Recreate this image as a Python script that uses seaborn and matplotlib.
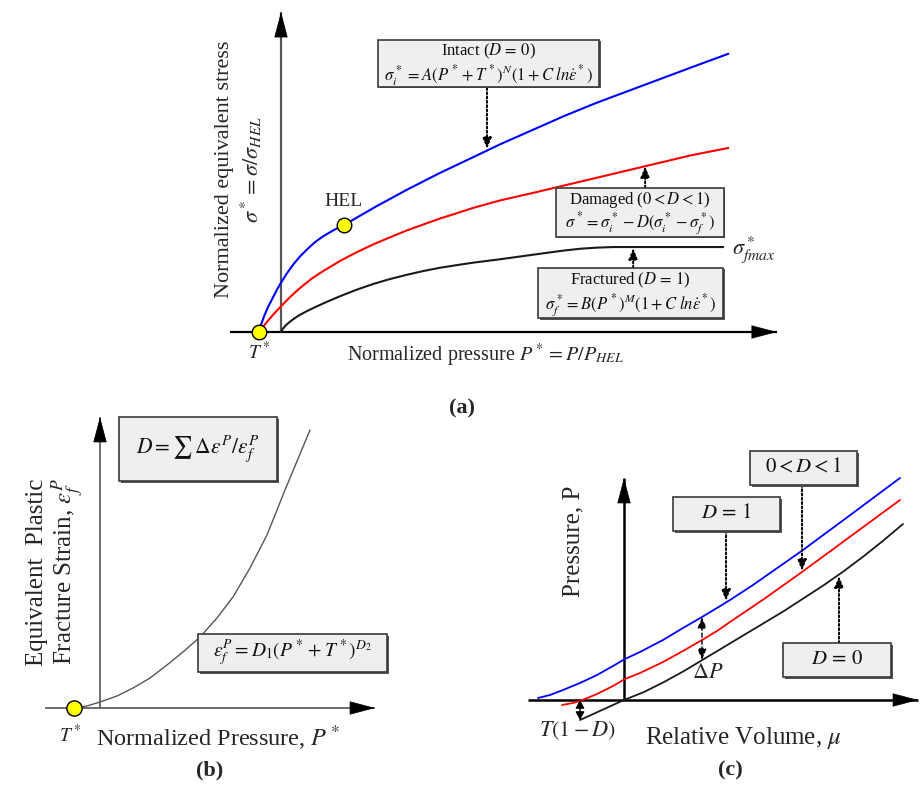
import matplotlib
matplotlib.use("Agg")
import matplotlib.pyplot as plt
from matplotlib.patches import Rectangle
from matplotlib.transforms import offset_copy
import seaborn as sns

W, H = 924, 785

# (a) JH-2 strength curves, normalized pressure / stress (HEL at 1, 1)
intact_p = [-0.35, -0.31, -0.26, -0.20, -0.13, -0.06, 0.0, 0.09, 0.20, 0.30, 0.41, 0.54, 0.67, 0.83,
            1.0, 1.5, 2.0, 2.5, 3.0, 3.5, 4.0, 4.5, 5.0, 5.5, 6.0, 6.5, 7.1]
intact_s = [0.0, 0.08, 0.16, 0.24, 0.32, 0.40, 0.46, 0.545, 0.635, 0.705, 0.77, 0.84, 0.895, 0.95,
            1.0, 1.17, 1.33, 1.48, 1.62, 1.76, 1.89, 2.02, 2.14, 2.25, 2.36, 2.47, 2.60]
damaged_p = [-0.35, -0.25, -0.12, 0.0, 0.14, 0.30, 0.49, 0.67, 0.94, 1.20, 1.47, 1.73, 2.0, 2.26,
             2.52, 2.79, 3.05, 3.48, 4.0, 4.5, 5.0, 5.5, 6.0, 6.5, 7.1]
damaged_s = [0.0, 0.075, 0.165, 0.24, 0.325, 0.41, 0.50, 0.57, 0.665, 0.745, 0.82, 0.885, 0.95,
             1.005, 1.06, 1.11, 1.16, 1.23, 1.30, 1.37, 1.44, 1.51, 1.58, 1.65, 1.72]
fractured_p = [0.0, 0.03, 0.08, 0.16, 0.27, 0.41, 0.57, 0.72, 0.94, 1.20, 1.47, 1.73, 2.0, 2.26,
               2.52, 2.79, 3.05, 3.48, 3.85, 4.22, 4.5, 4.75, 5.0, 5.27, 7.02]
fractured_s = [0.0, 0.03, 0.065, 0.105, 0.15, 0.195, 0.24, 0.28, 0.335, 0.395, 0.45, 0.495, 0.535,
               0.57, 0.60, 0.625, 0.648, 0.68, 0.71, 0.74, 0.762, 0.778, 0.788, 0.794, 0.794]
hel_point = (1.0, 1.0)
tstar_a = -0.35

# (b) fracture strain vs normalized pressure
strain_p = [-0.26, -0.13, 0.0, 0.17, 0.33, 0.50, 0.67, 0.83, 1.00, 1.17, 1.33, 1.50, 1.67, 1.85, 2.10]
strain_e = [0.0, 0.02, 0.06, 0.12, 0.20, 0.30, 0.43, 0.56, 0.71, 0.90, 1.11, 1.40, 1.73, 2.18, 2.78]
tstar_b = -0.26

# (c) pressure vs relative volume
eos_intact_mu = [-0.86, -0.74, -0.61, -0.44, -0.27, -0.11, 0.01, 0.16, 0.39, 0.59, 0.78, 0.93,
                 1.06, 1.29, 1.79, 2.29, 2.76]
eos_intact_p = [0.02, 0.05, 0.10, 0.17, 0.25, 0.34, 0.41, 0.48, 0.60, 0.72, 0.83, 0.92,
                1.00, 1.15, 1.50, 1.87, 2.22]
eos_damaged_mu = [-0.62, -0.51, -0.44, -0.27, -0.11, 0.01, 0.16, 0.39, 0.59, 0.78, 0.93, 1.06,
                  1.40, 1.78, 2.27, 2.76]
eos_damaged_p = [-0.05, -0.03, -0.01, 0.06, 0.14, 0.21, 0.27, 0.38, 0.49, 0.60, 0.69, 0.78,
                 1.01, 1.28, 1.64, 2.00]
eos_fractured_mu = [-0.44, 0.0, 0.2, 0.4, 0.6, 0.8, 1.0, 1.2, 1.4, 1.6, 1.8, 2.0, 2.2, 2.4, 2.6, 2.79]
eos_fractured_p = [-0.20, 0.0, 0.08, 0.18, 0.29, 0.41, 0.53, 0.65, 0.77, 0.89, 1.02, 1.15, 1.29,
                   1.44, 1.60, 1.76]

BLUE, RED, BLACK = "#0000ff", "#ff0000", "#1a1a1a"
BOX_FC, BOX_EC = "#efefef", "#3a3a3a"

sns.set_theme(style="white")
plt.rcParams["font.family"] = ["Liberation Serif", "DejaVu Serif"]
plt.rcParams["mathtext.fontset"] = "stix"

fig = plt.figure(figsize=(W / 100, H / 100), dpi=100)


def panel_axes(box, origin, scale):
    # box / origin in pixels (y down), scale = pixels per data unit
    x0, y0, x1, y1 = box
    ox, oy = origin
    sx, sy = scale
    ax = fig.add_axes([x0 / W, 1 - y1 / H, (x1 - x0) / W, (y1 - y0) / H])
    ax.set_xlim((x0 - ox) / sx, (x1 - ox) / sx)
    ax.set_ylim((oy - y1) / sy, (oy - y0) / sy)
    ax.set_axis_off()
    ax.patch.set_visible(False)
    return ax


def axis_line(ax, xs, ys, color, lw, direction):
    ax.plot(xs, ys, color=color, lw=lw, solid_capstyle="butt")
    off = {"right": (-17, 0), "up": (0, -17)}[direction]
    ax.annotate("", xy=(xs[1], ys[1]), xytext=off, textcoords="offset points",
                arrowprops=dict(arrowstyle="-|>,head_length=1.7,head_width=0.45",
                                mutation_scale=10, color="black", lw=0.5,
                                shrinkA=0, shrinkB=0))


def dotted_arrow(ax, start, tip, style="-|>", ls=(0, (1, 1.2)), lw=1.4, head=0.55):
    ax.annotate("", xy=tip, xytext=start,
                arrowprops=dict(arrowstyle=f"{style},head_length={head},head_width=0.22",
                                mutation_scale=12, color="black", lw=lw,
                                linestyle=ls, shrinkA=0, shrinkB=0))


def text_box(ax, x0, x1, y0, y1, lines, size):
    shadow = offset_copy(ax.transData, fig=fig, x=1.5, y=-1.5, units="dots")
    ax.add_patch(Rectangle((x0, y0), x1 - x0, y1 - y0, transform=shadow,
                           fc="#555555", ec="none", zorder=4))
    ax.add_patch(Rectangle((x0, y0), x1 - x0, y1 - y0, fc=BOX_FC, ec=BOX_EC,
                           lw=1.2, zorder=5))
    n = len(lines)
    for i, s in enumerate(lines):
        yy = y1 - (y1 - y0) * (i + 0.5) / n
        ax.text((x0 + x1) / 2, yy, s, ha="center", va="center", fontsize=size,
                color="#111111", zorder=6)


# ---------------- (a) ----------------
ax = panel_axes((185, 0, 800, 425), (281, 332), (63, 107))
axis_line(ax, [-0.81, 7.87], [0, 0], "black", 1.6, "right")
axis_line(ax, [0, 0], [0, 2.99], "#555555", 1.6, "up")
sns.lineplot(x=intact_p, y=intact_s, ax=ax, color=BLUE, lw=1.5, sort=False, estimator=None)
sns.lineplot(x=damaged_p, y=damaged_s, ax=ax, color=RED, lw=1.5, sort=False, estimator=None)
sns.lineplot(x=fractured_p, y=fractured_s, ax=ax, color=BLACK, lw=1.5, sort=False, estimator=None)
sns.scatterplot(x=[tstar_a, hel_point[0]], y=[0, hel_point[1]], ax=ax, s=110,
                color="#ffff00", edgecolor="black", linewidth=1.0, zorder=8)

text_box(ax, 1.54, 5.05, 2.29, 2.73,
         ["Intact ($D\\,=\\,0$)",
          "$\\sigma_i^*\\,=A(P^*+T^*)^N(1+C\\;ln\\dot{\\varepsilon}^*)$"], 12)
text_box(ax, 4.37, 7.03, 0.89, 1.35,
         ["Damaged ($0<D<1$)",
          "$\\sigma^*=\\sigma_i^*-D(\\sigma_i^*-\\sigma_f^*)$"], 12)
text_box(ax, 4.08, 7.02, 0.13, 0.60,
         ["Fractured ($D\\,=\\,1$)",
          "$\\sigma_f^*=B(P^*)^M(1+C\\;ln\\dot{\\varepsilon}^*)$"], 12)
dotted_arrow(ax, (3.27, 2.28), (3.27, 1.71))
dotted_arrow(ax, (5.78, 1.35), (5.78, 1.55))
dotted_arrow(ax, (5.59, 0.60), (5.59, 0.785))

ax.text(1.0, 1.22, "HEL", ha="center", va="center", fontsize=14)
ax.text(tstar_a, -0.19, "$T^*$", ha="center", va="center", fontsize=14)
ax.text(7.16, 0.77, "$\\sigma^*_{fmax}$", ha="left", va="center", fontsize=16)
ax.text(1.05, -0.22, "Normalized pressure $P^*=P/P_{HEL}$", ha="left", va="center", fontsize=14.5)
ax.text(-0.89, 1.52, "Normalized equivalent stress", rotation=90, ha="center",
        va="center", fontsize=16)
ax.text(-0.47, 1.52, "$\\sigma^*=\\sigma/\\sigma_{HEL}$", rotation=90, ha="center",
        va="center", fontsize=16)

# ---------------- (b) ----------------
ax = panel_axes((0, 405, 430, 760), (100, 708), (100, 100))
axis_line(ax, [-0.55, 2.75], [0, 0], "#555555", 1.2, "right")
axis_line(ax, [0, 0], [0, 2.91], "#555555", 1.2, "up")
sns.lineplot(x=strain_p, y=strain_e, ax=ax, color="#555555", lw=1.0, sort=False, estimator=None)
sns.scatterplot(x=[tstar_b], y=[0], ax=ax, s=120, color="#ffff00",
                edgecolor="black", linewidth=1.0, zorder=8)
text_box(ax, 0.19, 1.77, 2.27, 2.91, ["$D=\\sum\\,\\Delta\\varepsilon^P/\\varepsilon_f^P$"], 15.5)
text_box(ax, 0.98, 2.87, 0.36, 0.74, ["$\\varepsilon_f^P=D_1(P^*+T^*)^{D_2}$"], 14)
ax.text(tstar_b - 0.04, -0.27, "$T^*$", ha="center", va="center", fontsize=14)
ax.text(-0.04, -0.30, "Normalized Pressure, $P^*$", ha="left", va="center", fontsize=17.5)
ax.text(-0.63, 1.36, "Equivalent  Plastic", rotation=90, ha="center", va="center", fontsize=18)
ax.text(-0.32, 1.36, "Fracture Strain, $\\varepsilon_f^P$", rotation=90, ha="center",
        va="center", fontsize=18)

# ---------------- (c) ----------------
ax = panel_axes((520, 440, 924, 760), (624, 700), (100, 100))
axis_line(ax, [-0.96, 2.94], [0, 0], "black", 1.8, "right")
axis_line(ax, [0, 0], [0, 2.22], "black", 1.8, "up")
sns.lineplot(x=eos_intact_mu, y=eos_intact_p, ax=ax, color=BLUE, lw=1.3, sort=False, estimator=None)
sns.lineplot(x=eos_damaged_mu, y=eos_damaged_p, ax=ax, color=RED, lw=1.3, sort=False, estimator=None)
sns.lineplot(x=eos_fractured_mu, y=eos_fractured_p, ax=ax, color=BLACK, lw=1.3, sort=False, estimator=None)

text_box(ax, 0.49, 1.56, 1.69, 2.03, ["$D\\,=\\,1$"], 15)
text_box(ax, 1.26, 2.33, 2.15, 2.49, ["$0<D<1$"], 15)
text_box(ax, 1.59, 2.67, 0.23, 0.57, ["$D\\,=\\,0$"], 15)
dotted_arrow(ax, (1.02, 1.69), (1.02, 0.99))
dotted_arrow(ax, (1.78, 2.15), (1.78, 1.29))
dotted_arrow(ax, (2.15, 0.57), (2.15, 1.24))
dotted_arrow(ax, (0.78, 0.40), (0.78, 0.83), style="<|-|>", ls=(0, (3, 2)), lw=1.0)
dotted_arrow(ax, (-0.44, -0.20), (-0.44, 0.0), style="<|-|>", ls="-", lw=1.0, head=0.4)
ax.text(0.84, 0.27, "$\\Delta P$", ha="center", va="center", fontsize=16)
ax.text(-0.47, -0.31, "$T(1-D)$", ha="center", va="center", fontsize=16)
ax.text(0.21, -0.38, "Relative Volume, $\\mu$", ha="left", va="center", fontsize=18)
ax.text(-0.51, 1.59, "Pressure, P", rotation=90, ha="center", va="center", fontsize=18)

# panel labels
fig.text(462 / W, 1 - 408 / H, "(a)", ha="center", va="center", fontsize=16, fontweight="bold")
fig.text(210 / W, 1 - 770 / H, "(b)", ha="center", va="center", fontsize=16, fontweight="bold")
fig.text(730 / W, 1 - 770 / H, "(c)", ha="center", va="center", fontsize=16, fontweight="bold")

fig.savefig("out.png", dpi=100)
